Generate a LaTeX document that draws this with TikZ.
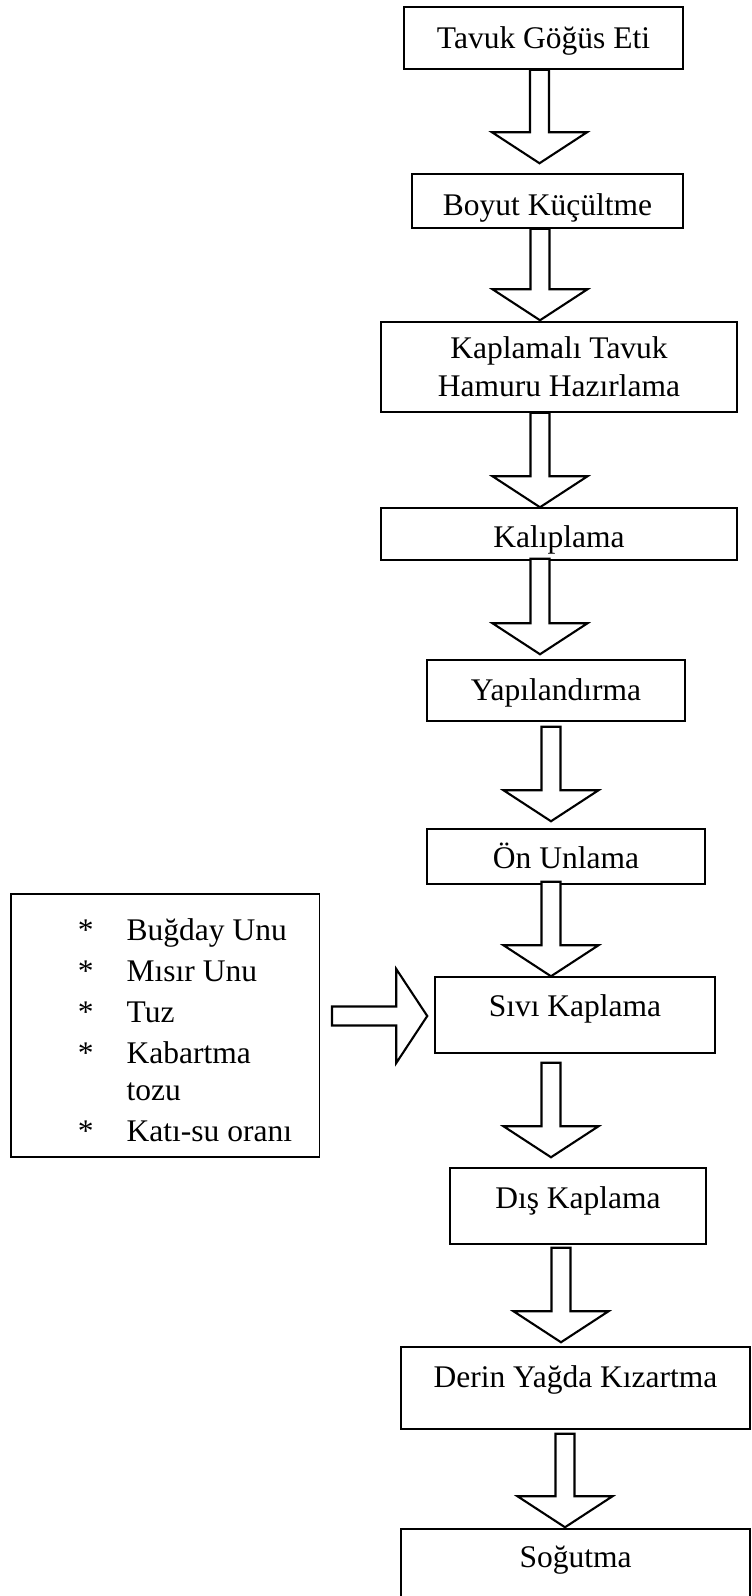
\documentclass[tikz,border=0pt]{standalone}
\usepackage{fontspec}
\setmainfont{Liberation Serif}
\usetikzlibrary{calc}

\tikzset{
  stepbox/.style={draw, line width=1.5pt, fill=white, inner sep=0pt, anchor=base,
    font=\fontsize{31.5pt}{38pt}\selectfont},
  blkarrow/.style={draw, line width=2.1pt, fill=white, line join=miter},
}

% block arrow downwards: from node, to node, x, gap at top, gap at tip
\newcommand{\blkdown}[5]{%
  \path let \p1=(#1.south), \p2=(#2.north) in [blkarrow]
    ({(#3-9.5)*1pt},{\y1-(#4)*1pt}) -- ({(#3+9.5)*1pt},{\y1-(#4)*1pt})
    -- ({(#3+9.5)*1pt},{\y2+(#5+31)*1pt}) -- ({(#3+47.5)*1pt},{\y2+(#5+31)*1pt})
    -- ({#3*1pt},{\y2+(#5)*1pt})
    -- ({(#3-47.5)*1pt},{\y2+(#5+31)*1pt}) -- ({(#3-9.5)*1pt},{\y2+(#5+31)*1pt}) -- cycle;}
% block arrow to the right: from node, to node, y, gap at start, gap at tip
\newcommand{\blkright}[5]{%
  \path let \p1=(#1.east), \p2=(#2.west) in [blkarrow]
    ({\x1+(#4)*1pt},{(-#3+9.5)*1pt}) -- ({\x2-(#5+31)*1pt},{(-#3+9.5)*1pt})
    -- ({\x2-(#5+31)*1pt},{(-#3+47)*1pt}) -- ({\x2-(#5)*1pt},{-#3*1pt})
    -- ({\x2-(#5+31)*1pt},{(-#3-47)*1pt}) -- ({\x2-(#5+31)*1pt},{(-#3-9.5)*1pt})
    -- ({\x1+(#4)*1pt},{(-#3-9.5)*1pt}) -- cycle;}

\begin{document}
\begin{tikzpicture}[x=1pt, y=-1pt]
  \useasboundingbox (0,0) rectangle (752,1596);

  % process steps
  \node[stepbox, minimum width=279pt, text height=41pt, text depth=21pt] (tavuk) at (543.5,48) {Tavuk Göğüs Eti};
  \node[stepbox, minimum width=271pt, text height=41pt, text depth=13pt] (boyut) at (547.5,215) {Boyut Küçültme};
  \node[stepbox, anchor=center, minimum width=356pt, minimum height=90pt, align=center] (hamur) at (559,367) {Kaplamalı Tavuk\\Hamuru Hazırlama};
  \node[stepbox, minimum width=356pt, text height=39pt, text depth=13pt] (kalip) at (559,547) {Kalıplama};
  \node[stepbox, minimum width=258pt, text height=40pt, text depth=21pt] (yapi) at (556,700) {Yapılandırma};
  \node[stepbox, minimum width=278pt, text height=39pt, text depth=16pt] (onun) at (566,868) {Ön Unlama};
  \node[stepbox, minimum width=280pt, text height=39pt, text depth=37pt] (sivi) at (575,1016) {Sıvı Kaplama};
  \node[stepbox, minimum width=256pt, text height=40pt, text depth=36pt] (dis) at (578,1208) {Dış Kaplama};
  \node[stepbox, minimum width=349pt, text height=40pt, text depth=42pt] (derin) at (575.5,1387) {Derin Yağda Kızartma};
  \node[stepbox, minimum width=349pt, text height=38pt, text depth=60pt] (sogut) at (575.5,1567) {Soğutma};

  % batter ingredients
  \node[stepbox, minimum width=308.5pt, text height=46pt, text depth=217pt,
    font=\fontsize{31.5pt}{41pt}\selectfont] (ingr) at (165,940)
    {\begin{tabular}[t]{@{\hspace{40pt}}l@{\hspace{33pt}}l@{}}
      {*} & Buğday Unu\\
      {*} & Mısır Unu\\
      {*} & Tuz\\
      {*} & Kabartma\\[-4pt]
          & tozu\\
      {*} & Katı-su oranı
    \end{tabular}};

  % arrows
  \blkdown{tavuk}{boyut}{539.5}{0}{10}
  \blkdown{boyut}{hamur}{540}{0}{1}
  \blkdown{hamur}{kalip}{540}{0}{0}
  \blkdown{kalip}{yapi}{540}{-2}{5}
  \blkdown{yapi}{onun}{551}{5}{7}
  \blkdown{onun}{sivi}{551}{-3}{0}
  \blkdown{sivi}{dis}{551}{9}{10}
  \blkdown{dis}{derin}{561}{3}{4}
  \blkdown{derin}{sogut}{565}{4}{1}
  \blkright{ingr}{sivi}{1016}{12}{7}
\end{tikzpicture}
\end{document}
